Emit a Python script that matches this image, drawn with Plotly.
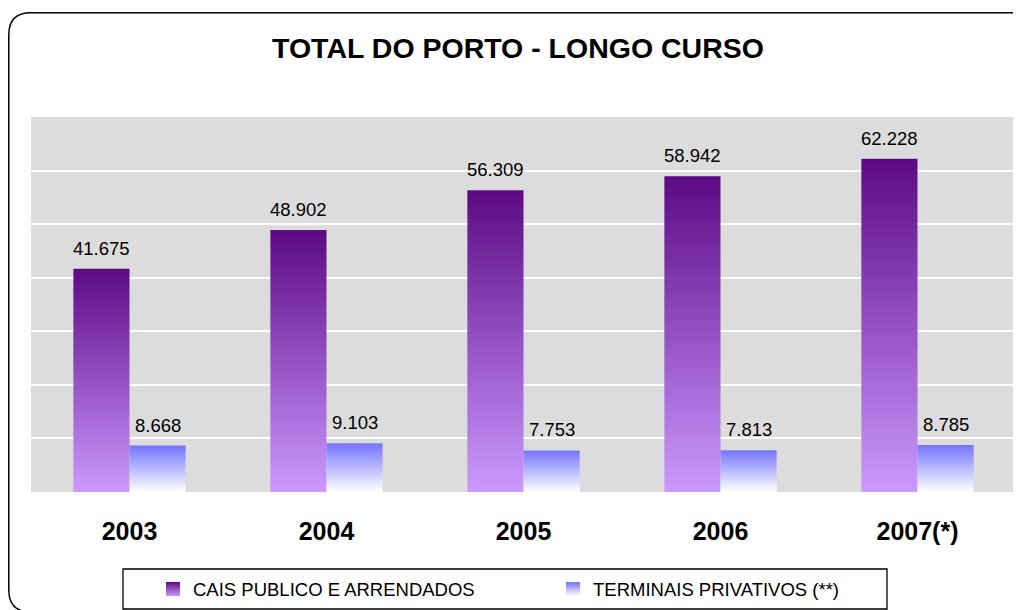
import plotly.graph_objects as go

# ---------------- data ----------------
years = ["2003", "2004", "2005", "2006", "2007(*)"]
cais_publico = [41675, 48902, 56309, 58942, 62228]
terminais_privativos = [8668, 9103, 7753, 7813, 8785]
series_names = ["CAIS PUBLICO E ARRENDADOS", "TERMINAIS PRIVATIVOS (**)"]
title_text = "TOTAL DO PORTO - LONGO CURSO"

# ---------------- styling ----------------
# the page body adds an 8px margin at top/left; figure coords = window coords - 8
W, H = 1013, 602
ML, MR, MT, MB = 23, 5, 109, 118
PW, PH = W - ML - MR, H - MT - MB
FONT = "Liberation Sans, Arial, sans-serif"
BAR_W = 0.285
PURPLE_TOP, PURPLE_BOT = "#5c0a84", "#cc99ff"
BLUE_TOP, BLUE_BOT = "#7474ff", "#ffffff"

def fmt(v):
    return f"{v:,}".replace(",", ".")

def px_x(px):
    return (px - ML) / PW

def px_y(py):
    return (H - MB - py) / PH

fig = go.Figure()

series = [
    (cais_publico, -BAR_W, 0.0, PURPLE_TOP, PURPLE_BOT),
    (terminais_privativos, 0.0, BAR_W, BLUE_TOP, BLUE_BOT),
]

annotations = []
for s_idx, (vals, off0, off1, c_top, c_bot) in enumerate(series):
    for i, v in enumerate(vals):
        x0, x1 = i + off0, i + off1
        fig.add_trace(go.Scatter(
            x=[x0, x1, x1, x0, x0], y=[0, 0, v, v, 0],
            mode="lines", line=dict(width=0), fill="toself",
            fillgradient=dict(type="vertical", colorscale=[[0, c_bot], [1, c_top]],
                              start=0, stop=v),
            showlegend=False, hoverinfo="skip",
        ))
        annotations.append(dict(
            x=(x0 + x1) / 2, y=v, xref="x", yref="y", text=fmt(v),
            showarrow=False, yanchor="bottom", xanchor="center", yshift=8,
            font=dict(family=FONT, size=18.5, color="#000000"),
        ))
    # legend entry with a vertical gradient square
    fig.add_trace(go.Scatter(
        x=[None], y=[None], mode="markers", name=series_names[s_idx],
        marker=dict(symbol="square", size=14, color=c_top,
                    gradient=dict(type="vertical", color=c_bot), line=dict(width=0)),
    ))

# rounded outer border (extends past the right and bottom edges)
L, T, R, B, r = 0.8, 4.7, 1024, 604, 22
def P(px, py):
    return f"{px_x(px):.5f},{px_y(py):.5f}"
path = (f"M {P(L + r, T)} L {P(R - r, T)} Q {P(R, T)} {P(R, T + r)} "
        f"L {P(R, B - r)} Q {P(R, B)} {P(R - r, B)} L {P(L + r, B)} "
        f"Q {P(L, B)} {P(L, B - r)} L {P(L, T + r)} Q {P(L, T)} {P(L + r, T)} Z")

shapes = [
    dict(type="path", path=path, xref="paper", yref="paper",
         line=dict(color="#000000", width=1.5), fillcolor="rgba(0,0,0,0)", layer="above"),
    dict(type="rect", xref="paper", yref="paper",
         x0=px_x(115), x1=px_x(879), y0=px_y(601), y1=px_y(561),
         line=dict(color="#000000", width=1.3), fillcolor="rgba(0,0,0,0)"),
]

fig.update_layout(
    width=W, height=H,
    margin=dict(l=ML, r=MR, t=MT, b=MB, pad=0, autoexpand=False),
    paper_bgcolor="#ffffff", plot_bgcolor="#dcdcdc",
    title=dict(text=f"<b>{title_text}</b>", x=510 / W, xanchor="center",
               y=1 - 40 / H, yanchor="middle",
               font=dict(family=FONT, size=28.5, color="#000000")),
    xaxis=dict(range=[-0.5, len(years) - 0.5], tickvals=list(range(len(years))),
               ticktext=[f"<b>{y}</b>" for y in years], showgrid=False, zeroline=False,
               ticks="", ticklabelstandoff=22, showline=False, automargin=False,
               tickfont=dict(family=FONT, size=25, color="#000000"), fixedrange=True),
    yaxis=dict(range=[0, 70000], dtick=10000, showticklabels=False, ticks="",
               showgrid=True, gridcolor="#ffffff", gridwidth=1.5, zeroline=False,
               showline=False, fixedrange=True, automargin=False),
    showlegend=True,
    legend=dict(orientation="h", x=px_x(145), xanchor="left", y=px_y(562.5), yanchor="top",
                font=dict(family=FONT, size=18.5, color="#000000"),
                bgcolor="rgba(0,0,0,0)", borderwidth=0, itemsizing="trace",
                entrywidth=355, entrywidthmode="pixels", traceorder="normal"),
    annotations=annotations,
    shapes=shapes,
)

fig.write_html("out.html")
